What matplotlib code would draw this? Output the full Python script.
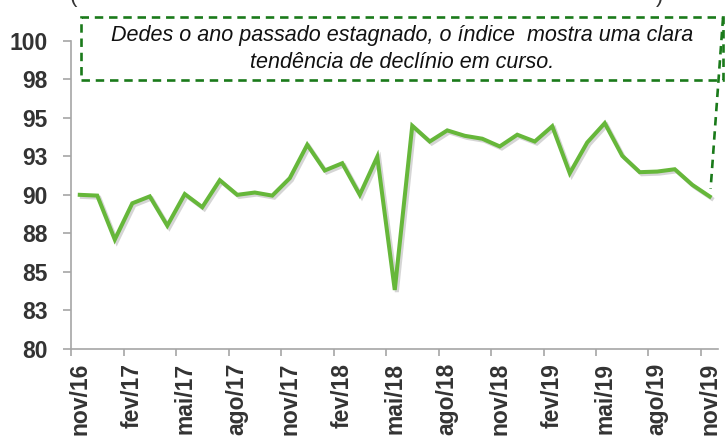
import matplotlib.pyplot as plt
import matplotlib.patheffects as pe
from matplotlib.patches import Rectangle

# monthly index, nov/16 .. nov/19
months = ['nov/16', 'dez/16', 'jan/17', 'fev/17', 'mar/17', 'abr/17', 'mai/17', 'jun/17',
          'jul/17', 'ago/17', 'set/17', 'out/17', 'nov/17', 'dez/17', 'jan/18', 'fev/18',
          'mar/18', 'abr/18', 'mai/18', 'jun/18', 'jul/18', 'ago/18', 'set/18', 'out/18',
          'nov/18', 'dez/18', 'jan/19', 'fev/19', 'mar/19', 'abr/19', 'mai/19', 'jun/19',
          'jul/19', 'ago/19', 'set/19', 'out/19', 'nov/19']
values = [90.0, 89.95, 87.1, 89.45, 89.9, 88.0, 90.05, 89.2, 90.95, 90.0, 90.15, 89.95,
          91.08, 93.25, 91.58, 92.05, 90.0, 92.47, 83.83, 94.48, 93.46, 94.18, 93.83, 93.64,
          93.14, 93.9, 93.46, 94.45, 91.4, 93.4, 94.65, 92.53, 91.47, 91.51, 91.66, 90.65,
          89.89]
y_ticks = [80, 82.5, 85, 87.5, 90, 92.5, 95, 97.5, 100]
y_labels = ['80', '83', '85', '88', '90', '93', '95', '98', '100']
note = 'Dedes o ano passado estagnado, o índice  mostra uma clara\ntendência de declínio em curso.'

plt.rcParams['font.family'] = ['Liberation Sans', 'DejaVu Sans']

fig = plt.figure(figsize=(7.27, 4.37), dpi=100)
ax = fig.add_axes([0.0977, 0.2014, 0.8906, 0.7055])

x = list(range(len(values)))
ax.plot(x, values, color='#66B73A', lw=2.9, solid_joinstyle='miter',
        path_effects=[pe.SimpleLineShadow(offset=(1.5, -1.5), shadow_color='#888888', alpha=0.35),
                      pe.Normal()])

ax.set_xlim(-0.5, len(values) - 0.5)
ax.set_ylim(80, 100)

grey = '#A6A6A6'
for s in ['top', 'right']:
    ax.spines[s].set_visible(False)
for s in ['left', 'bottom']:
    ax.spines[s].set_color(grey)
    ax.spines[s].set_linewidth(1.2)

ax.set_yticks(y_ticks)
ax.set_yticklabels(y_labels, fontsize=16.5, fontweight='bold', color='#333333')
ax.tick_params(axis='y', length=6, width=1.2, color=grey, pad=11)

# tick marks between categories, labels on categories
ax.set_xticks([i - 0.5 for i in range(0, len(values), 3)])
ax.set_xticklabels([])
ax.set_xticks(x[::3], minor=True)
ax.set_xticklabels(months[::3], minor=True, rotation=90, fontsize=16.5,
                   fontweight='bold', color='#333333', va='top', ha='center')
ax.tick_params(axis='x', which='major', length=5, width=1.2, color=grey)
ax.tick_params(axis='x', which='minor', length=0, pad=10)

# callout box
box_col = '#1A7A1A'
dash = (0, (3.2, 2.2))
ax.add_patch(Rectangle((0.07, 97.47), 36.69, 4.09, fill=False, edgecolor=box_col,
                       lw=1.9, linestyle=dash, clip_on=False))
ax.plot([36.76, 36.05], [101.5, 90.4], color=box_col, lw=1.9, linestyle=dash, clip_on=False)
ax.text(18.4, 99.45, note, ha='center', va='center', fontsize=15.5, style='italic',
        linespacing=1.4, color='#111111')

# clipped title line above the chart
fig.text(70 / 727, 1 - 2 / 437, '(', fontsize=16, va='baseline', color='#333333')
fig.text(656 / 727, 1 - 2 / 437, ')', fontsize=16, va='baseline', color='#333333')

fig.savefig('out.png', dpi=100)
